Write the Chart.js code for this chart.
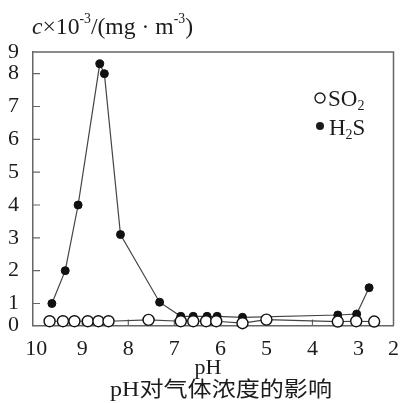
<!DOCTYPE html>
<html>
<head>
<meta charset="utf-8">
<script src="https://cdn.jsdelivr.net/npm/chart.js@4.4.0/dist/chart.umd.min.js"></script>
<style>
html, body { margin: 0; padding: 0; background: #fff; }
</style>
</head>
<body>
<canvas id="chart" width="402" height="403"></canvas>
<script>
// values
var phSO2 = [9.71, 9.42, 9.17, 8.88, 8.65, 8.43, 7.56, 6.86, 6.59, 6.31, 6.09, 5.52, 5.00, 3.45, 3.05, 2.66];
var concSO2 = [0.46, 0.46, 0.46, 0.46, 0.46, 0.46, 0.50, 0.46, 0.46, 0.46, 0.46, 0.40, 0.51, 0.45, 0.46, 0.45];
var phH2S = [9.66, 9.37, 9.09, 8.62, 8.52, 8.17, 7.32, 6.86, 6.59, 6.29, 6.07, 5.52, 3.45, 3.04, 2.77];
var concH2S = [1.0, 2.0, 4.0, 8.3, 8.0, 3.1, 1.04, 0.61, 0.61, 0.61, 0.61, 0.58, 0.65, 0.68, 1.48];

// the printed axis puts "0" and "9" on the frame edges
var xTickValues = [10, 9, 8, 7, 6, 5, 4, 3, 2.24];
var xTickLabels = ['10', '9', '8', '7', '6', '5', '4', '3', '2'];
var yTickValues = [0.33, 1, 2, 3, 4, 5, 6, 7, 8, 8.66];
var yTickLabels = ['0', '1', '2', '3', '4', '5', '6', '7', '8', '9'];

var serif = '"Liberation Serif", "Times New Roman", serif';
var textColor = '#1c1c1c';
var frameColor = '#666';

function toPoints(xs, ys) {
    return xs.map(function (x, i) { return { x: x, y: ys[i] }; });
}

var decorations = {
    id: 'decorations',
    beforeDatasetsDraw: function (chart) {
        var ctx = chart.ctx, a = chart.chartArea;
        var xs = chart.scales.x, ys = chart.scales.y;
        ctx.save();
        ctx.strokeStyle = frameColor;
        ctx.lineWidth = 1.5;
        ctx.beginPath();
        ctx.moveTo(a.left, a.top);
        ctx.lineTo(a.right, a.top);
        ctx.lineTo(a.right, a.bottom);
        ctx.stroke();
        // inward tick marks
        ctx.lineWidth = 1.2;
        ctx.beginPath();
        for (var v = 1; v <= 8; v++) {
            var py = ys.getPixelForValue(v);
            ctx.moveTo(a.left, py);
            ctx.lineTo(a.left + 7, py);
        }
        for (var p = 3; p <= 9; p++) {
            var px = xs.getPixelForValue(p);
            ctx.moveTo(px, a.bottom);
            ctx.lineTo(px, a.bottom - 6);
        }
        ctx.stroke();
        ctx.restore();
    },
    afterDraw: function (chart) {
        var ctx = chart.ctx;
        ctx.save();
        ctx.fillStyle = textColor;
        ctx.strokeStyle = textColor;
        ctx.textBaseline = 'alphabetic';

        // y axis unit: c×10^-3/(mg·m^-3)
        var parts = [
            { t: 'c', f: 'italic 24px ' + serif, dy: 0 },
            { t: '×10', f: '24px ' + serif, dy: 0 },
            { t: '-3', f: '14px ' + serif, dy: -11 },
            { t: '/(mg · m', f: '24px ' + serif, dy: 0 },
            { t: '-3', f: '14px ' + serif, dy: -11 },
            { t: ')', f: '24px ' + serif, dy: 0 }
        ];
        var total = 0;
        parts.forEach(function (pt) { ctx.font = pt.f; pt.w = ctx.measureText(pt.t).width; total += pt.w; });
        ctx.save();
        ctx.translate(32, 34);
        ctx.scale(161 / total, 1);
        var cx = 0;
        parts.forEach(function (pt) { ctx.font = pt.f; ctx.fillText(pt.t, cx, pt.dy); cx += pt.w; });
        ctx.restore();

        // legend
        ctx.lineWidth = 1.4;
        ctx.beginPath();
        ctx.arc(320, 98, 5, 0, Math.PI * 2);
        ctx.fillStyle = '#fff';
        ctx.fill();
        ctx.stroke();
        ctx.fillStyle = textColor;
        ctx.beginPath();
        ctx.arc(320, 126, 4, 0, Math.PI * 2);
        ctx.fill();
        ctx.font = '23px ' + serif;
        ctx.fillText('SO', 328, 106);
        var w = ctx.measureText('SO').width;
        ctx.font = '14px ' + serif;
        ctx.fillText('2', 328 + w, 110);
        ctx.font = '23px ' + serif;
        ctx.fillText('H', 329, 135);
        w = ctx.measureText('H').width;
        ctx.font = '14px ' + serif;
        ctx.fillText('2', 329 + w, 139);
        var w2 = ctx.measureText('2').width;
        ctx.font = '23px ' + serif;
        ctx.fillText('S', 329 + w + w2, 135);

        // x axis name and caption
        ctx.textAlign = 'center';
        ctx.font = '22px ' + serif;
        ctx.fillText('pH', 208, 374);
        ctx.font = '21px ' + serif + ', "Noto Sans CJK SC"';
        var cap = 'pH对气体浓度的影响';
        var cw = ctx.measureText(cap).width;
        ctx.save();
        ctx.translate(221, 396);
        ctx.scale(222 / cw, 1);
        ctx.fillText(cap, 0, 0);
        ctx.restore();
        ctx.restore();
    }
};

new Chart(document.getElementById('chart'), {
    type: 'line',
    data: {
        datasets: [{
            label: 'SO2',
            data: toPoints(phSO2, concSO2),
            borderColor: '#444',
            borderWidth: 1.2,
            pointRadius: 5.5,
            pointBackgroundColor: '#fff',
            pointBorderColor: '#111',
            pointBorderWidth: 1.4,
            tension: 0,
            clip: false,
            order: 0
        }, {
            label: 'H2S',
            data: toPoints(phH2S, concH2S),
            borderColor: '#444',
            borderWidth: 1.2,
            pointRadius: 4,
            pointBackgroundColor: '#111',
            pointBorderColor: '#111',
            pointBorderWidth: 1,
            tension: 0,
            clip: false,
            order: 1
        }]
    },
    options: {
        responsive: false,
        animation: false,
        devicePixelRatio: 1,
        layout: { padding: { top: 52, right: 4, left: 0, bottom: 0 } },
        plugins: {
            legend: { display: false },
            tooltip: { enabled: false }
        },
        scales: {
            x: {
                type: 'linear',
                reverse: true,
                min: 2.24,
                max: 10.07,
                afterBuildTicks: function (s) { s.ticks = xTickValues.map(function (v) { return { value: v }; }); },
                afterFit: function (s) { s.height = 77.5; },
                ticks: {
                    autoSkip: false,
                    maxRotation: 0,
                    padding: 3,
                    color: textColor,
                    font: { family: serif, size: 22 },
                    callback: function (v, i) { return xTickLabels[i]; }
                },
                grid: { display: false },
                border: { display: true, color: frameColor, width: 1.5 }
            },
            y: {
                min: 0.33,
                max: 8.66,
                afterBuildTicks: function (s) { s.ticks = yTickValues.map(function (v) { return { value: v }; }); },
                afterFit: function (s) { s.width = 33; },
                ticks: {
                    autoSkip: false,
                    padding: 6,
                    color: textColor,
                    font: { family: serif, size: 22 },
                    callback: function (v, i) { return yTickLabels[i]; }
                },
                grid: { display: false },
                border: { display: true, color: frameColor, width: 1.5 }
            }
        }
    },
    plugins: [decorations]
});
</script>
</body>
</html>
